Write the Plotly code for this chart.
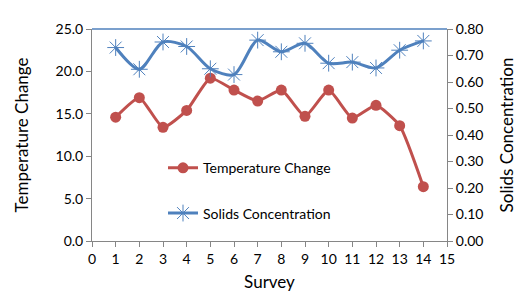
import plotly.graph_objects as go

survey = list(range(1, 15))
temperature_change = [14.6, 16.9, 13.4, 15.4, 19.2, 17.8, 16.5, 17.8, 14.7, 17.8, 14.5, 16.0, 13.6, 6.4]
solids_concentration = [0.730, 0.648, 0.751, 0.734, 0.650, 0.628, 0.758, 0.714, 0.746, 0.671, 0.675, 0.653, 0.720, 0.755]

RED = "#C0504D"
BLUE = "#4F81BD"
FONT = "Lato, Open Sans, sans-serif"

fig = go.Figure()
fig.add_trace(go.Scatter(
    x=survey, y=temperature_change, name="Temperature Change",
    mode="lines+markers", line=dict(color=RED, width=3, shape="spline", smoothing=0.5),
    marker=dict(symbol="circle", size=11, color=RED),
    legendgroup="a", yaxis="y"))
fig.add_trace(go.Scatter(
    x=survey, y=solids_concentration, name="Solids Concentration",
    mode="lines+markers", line=dict(color=BLUE, width=3, shape="spline", smoothing=0.8),
    marker=dict(symbol="asterisk-open", size=14, color=BLUE, line=dict(color=BLUE, width=1)),
    legendgroup="b", yaxis="y2"))

axis_common = dict(showgrid=False, zeroline=False, showline=True, linecolor="#868686",
                   linewidth=1, ticks="outside", tickcolor="#868686", ticklen=5,
                   tickfont=dict(family=FONT, size=14, color="#000"))

fig.update_layout(
    width=524, height=299,
    margin=dict(l=84, r=85, t=16, b=66),
    paper_bgcolor="white", plot_bgcolor="white",
    font=dict(family=FONT, color="#000"),
    xaxis=dict(range=[0, 15], dtick=1, tick0=0,
               title=dict(text="Survey", font=dict(family=FONT, size=17), standoff=10),
               **axis_common),
    yaxis=dict(range=[0, 25], dtick=5, tickformat=".1f",
               title=dict(text="Temperature Change", font=dict(family=FONT, size=17), standoff=22),
               **axis_common),
    yaxis2=dict(range=[0, 0.8], dtick=0.1, tickformat=".2f", overlaying="y", side="right",
                title=dict(text="Solids Concentration", font=dict(family=FONT, size=17), standoff=18),
                **axis_common),
    legend=dict(x=0.2, y=0.237, xanchor="left", yanchor="middle",
                bgcolor="rgba(0,0,0,0)", tracegroupgap=24,
                font=dict(family=FONT, size=14, color="#000")),
    shapes=[dict(type="line", xref="paper", yref="paper", x0=0, x1=1, y0=1, y1=1,
                 line=dict(color=BLUE, width=1.5))],
)

fig.write_html("out.html")
